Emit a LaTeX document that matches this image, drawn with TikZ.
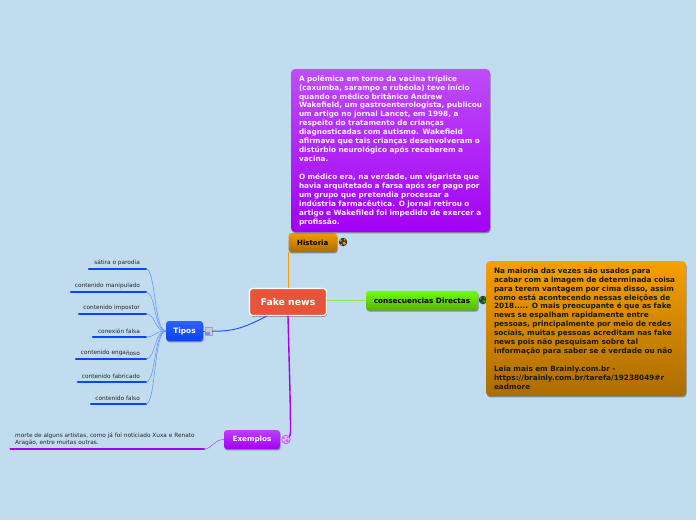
\documentclass[tikz,border=0pt]{standalone}
\usepackage{fontspec}
\setmainfont{DejaVu Sans}
\usetikzlibrary{shadows,calc}

\definecolor{pageblue}{HTML}{C1DCEF}
\definecolor{tiposblue}{HTML}{0A45FA}
\definecolor{thinblue}{HTML}{6A98F5}
\definecolor{histOrange}{HTML}{F59A00}
\definecolor{exPurple}{HTML}{A300F5}
\definecolor{linkGreen}{HTML}{8CF03C}
\definecolor{fakeRed}{HTML}{E8533A}

% patches of land on a round icon
\newcommand{\globepatches}[2]{
  \fill[#2] ($(#1)+(-2.4,-1.6)$) circle (1.3);
  \fill[#2] ($(#1)+(1.6,-2.2)$) circle (0.9);
  \fill[#2] ($(#1)+(1.2,1.2)$) circle (1.7);
  \fill[#2] ($(#1)+(-1.6,2.6)$) circle (0.8);
}

\begin{document}
\begin{tikzpicture}[
  x=1pt, y=-1pt,
  line cap=round,
  line join=round,
  softshadow/.style={drop shadow={shadow xshift=0.6pt, shadow yshift=-1.4pt, opacity=0.35, fill=black}},
  topic/.style={rounded corners=3pt, inner sep=0pt, align=center, font=\bfseries\fontsize{7}{9}\selectfont, softshadow},
  note/.style={rounded corners=4pt, inner sep=0pt, align=left, font=\bfseries\fontsize{7.3}{8.94}\selectfont, softshadow},
  leaftext/.style={anchor=south east, inner sep=0pt, font=\fontsize{5.8}{6}\selectfont, text=black!85},
  tipoline/.style={draw=thinblue, line width=0.6pt},
  underblue/.style={draw=tiposblue, line width=2.3pt},
  globeicon/.style={circle, inner sep=0pt, minimum size=8.5pt, fill=black!78}
]

\useasboundingbox (0,0) rectangle (696,520);
\fill[pageblue] (0,0) rectangle (696,520);

% Topics.
\node[topic, draw=white, line width=1.2pt, fill=fakeRed, minimum width=77pt, minimum height=27pt, text=white, font=\bfseries\fontsize{9.3}{10}\selectfont] (fake) at (288,302) {Fake news};
\node[topic, top color=histOrange, bottom color=histOrange!70!black, minimum width=48.5pt, minimum height=19pt] (historia) at (312.75,242.5) {Historia};
\node[topic, top color=green!60!yellow!95!white, bottom color=green!50!yellow!70!black, minimum width=112pt, minimum height=19.5pt, font=\bfseries\fontsize{7.3}{9}\selectfont] (consec) at (422,300.5) {consecuencias Directas};
\node[topic, top color=tiposblue!85!white, bottom color=tiposblue!95!black, minimum width=37pt, minimum height=20pt, text=white, font=\bfseries\fontsize{7.4}{9}\selectfont] (tipos) at (184.5,331) {Tipos};
\node[topic, top color=exPurple!75!white, bottom color=exPurple, minimum width=56pt, minimum height=19pt, text=white, font=\bfseries\fontsize{7.2}{9}\selectfont] (exemplos) at (252,439.5) {Exemplos};

% Small icons beside the topics.
\node[globeicon] (histIcon) at (343,242) {};
\globepatches{histIcon}{histOrange}
\node[globeicon] (consecIcon) at (483,300) {};
\globepatches{consecIcon}{green!70!black}
\node[draw=black!35, fill=white!80!black, inner sep=0pt, minimum width=7pt, minimum height=8pt] (tiposIcon) at (208.5,331) {};
\fill[thinblue] (tiposIcon.south west) rectangle +(5,-3.5);

% Text notes.
\node[note, top color=exPurple!70!white, bottom color=exPurple, text=white!95!exPurple, minimum height=163pt, text width=199pt] (historiaNote) at (390.5,150.5) {\leftskip=8pt
A polêmica em torno da vacina tríplice\\
(caxumba, sarampo e rubéola) teve início\\
quando o médico britânico Andrew\\
Wakefield, um gastroenterologista, publicou\\
um artigo no jornal Lancet, em 1998, a\\
respeito do tratamento de crianças\\
\raisebox{0.7pt}{diagnosticadas co}m autismo. Wakefield\\
afirmava que tais crianças desenvolveram o\\
distúrbio neurológico após receberem a\\
vacina.\\[8.94pt]
O médico era, na verdade, um vigarista que\\
havia arquitetado a farsa após ser pago por\\
um grupo que pretendia processar a\\
indústria farmacêutica. O jornal retirou o\\
artigo e Wakefiled foi impedido de exercer a\\
profissão.\par};
\node[note, top color=histOrange!95!yellow, bottom color=histOrange!70!black, text=black!90, minimum height=135pt, text width=200pt] (consecNote) at (586,328.5) {\leftskip=8pt
Na maioria das vezes são usados para\\
acabar com a imagem de determinada coisa\\
para terem vantagem por cima disso, assim\\
como está acontecendo nessas eleições de\\
2018..... O mais preocupante é que as fake\\
news se espalham rapidamente entre\\
pessoas, principalmente por meio de redes\\
sociais, muitas pessoas acreditam nas fake\\
news pois não pesquisam sobre tal\\
informação para saber se é verdade ou não\\[8.94pt]
Leia mais em Brainly.com.br -\\
https://brainly.com.br/tarefa/19238049\#r\\
eadmore\par};

% Branches from the centre.
\draw[histOrange, line width=1.4pt, line cap=butt] (historia.south west |- fake.north) -- (historia.south west);
\draw[exPurple, line width=1.4pt] (fake.south) .. controls +(1.5,60) and +(0,-30) .. (290.5,432) .. controls +(0,5) and +(3,0) .. (285,439.5);
\node[globeicon, fill=white!72!exPurple, draw=exPurple!80!white, line width=0.5pt] (exIcon) at (286,439.5) {};
\globepatches{exIcon}{exPurple!60!white}
\draw[linkGreen, line width=0.8pt] (fake.east |- consec.west) -- (consec.west);
\draw[tiposblue!90!white, line width=1pt] (tiposIcon.east) .. controls +(24,1) and +(-18,9) .. (267,316);
\draw[tiposblue!90!white, line width=0.6pt] (tipos.east) -- (tiposIcon.west);

% Leaves of Tipos.
\foreach \name/\yy/\xx/\label in {
  satira/269/89/sátira o parodia,
  manipulado/292/71/contenido manipulado,
  impostor/314/79/contenido impostor,
  conexion/337/93/conexión falsa,
  enganoso/359/76/contenido enga\raisebox{-1.1pt}{ñoso},
  fabricado/382/78/contenido fabricado,
  falso/404/91/contenido falso}{
  \coordinate (\name R) at (146,\yy);
  \draw[underblue] (\xx,\yy) -- (\name R);
  \node[leaftext] (\name) at (140,\yy-3.6) {\label};
  \draw[tipoline] (tipos.west) .. controls +(-12,0) and +(10,0) .. (\name R);
}

% Leaf of Exemplos.
\coordinate (exLeafR) at (204,449);
\draw[exPurple, line width=2.3pt] (10.5,449) -- (exLeafR);
\node[anchor=south west, inner sep=0pt, align=left, text=black!85, font=\fontsize{5.8}{7}\selectfont] (exLeaf) at (15,445.5) {morte de alguns artistas, como já foi noticiado Xuxa e Renato\\Aragão, entre muitas outras.};
\draw[exPurple!70!white, line width=0.6pt] (exemplos.west) .. controls +(-10,0) and +(8,0) .. (exLeafR);

\end{tikzpicture}
\end{document}
